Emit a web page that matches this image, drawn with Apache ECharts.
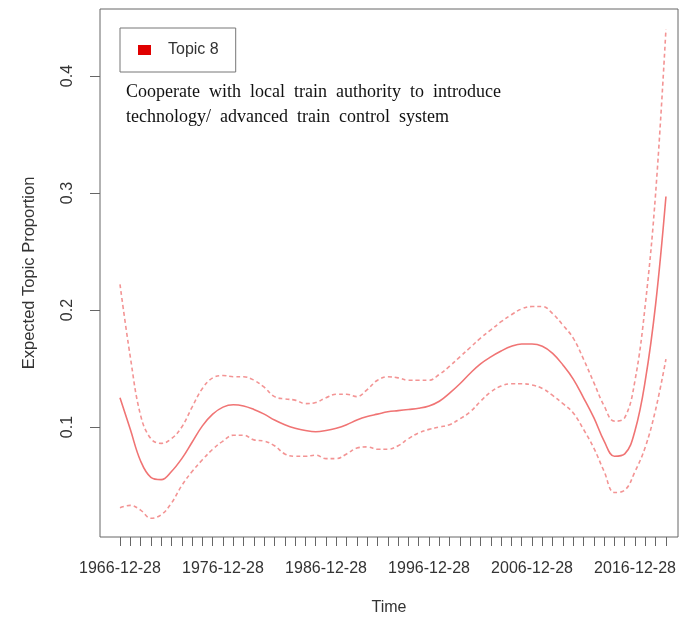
<!DOCTYPE html>
<html>
<head>
<meta charset="utf-8">
<script src="https://cdn.jsdelivr.net/npm/echarts@6/dist/echarts.min.js"></script>
<style>
  html, body { margin: 0; padding: 0; background: #fff; }
  #chart { width: 681px; height: 621px; }
</style>
</head>
<body>
<div id="chart"></div>
<script>
// years sampled along the time axis (each tick is YYYY-12-28)
const years = [1966, 1967, 1968, 1969, 1970, 1971, 1972, 1973, 1974, 1975,
  1976, 1977, 1978, 1979, 1980, 1981, 1982, 1983, 1984, 1985,
  1986, 1987, 1988, 1989, 1990, 1991, 1992, 1993, 1994, 1995,
  1996, 1997, 1998, 1999, 2000, 2001, 2002, 2003, 2004, 2005,
  2006, 2007, 2008, 2009, 2010, 2011, 2012, 2013, 2014, 2015,
  2016, 2017, 2018, 2019]
const labelYears = [1966, 1976, 1986, 1996, 2006, 2016]
const yTicks = [0.1, 0.2, 0.3, 0.4]

// expected topic proportion (mean) and 95% bounds
const meanVals = [0.125, 0.098, 0.071, 0.057, 0.055, 0.062, 0.073, 0.087, 0.101, 0.111,
  0.117, 0.119, 0.118, 0.115, 0.111, 0.106, 0.102, 0.099, 0.097, 0.096,
  0.097, 0.099, 0.102, 0.106, 0.109, 0.111, 0.113, 0.114, 0.115, 0.116,
  0.118, 0.122, 0.129, 0.137, 0.146, 0.154, 0.160, 0.165, 0.169, 0.171,
  0.171, 0.169, 0.163, 0.153, 0.141, 0.125, 0.108, 0.088, 0.075, 0.077,
  0.097, 0.140, 0.205, 0.297]
const upperVals = [0.222, 0.160, 0.110, 0.090, 0.086, 0.090, 0.100, 0.117, 0.133, 0.142,
  0.144, 0.143, 0.143, 0.140, 0.134, 0.126, 0.124, 0.123, 0.120, 0.121,
  0.125, 0.128, 0.128, 0.126, 0.132, 0.140, 0.143, 0.142, 0.140, 0.140,
  0.140, 0.145, 0.152, 0.160, 0.168, 0.176, 0.183, 0.190, 0.196, 0.201,
  0.203, 0.203, 0.197, 0.187, 0.176, 0.158, 0.138, 0.118, 0.105, 0.108,
  0.140, 0.205, 0.300, 0.440]
const lowerVals = [0.031, 0.033, 0.029, 0.022, 0.025, 0.035, 0.050, 0.062, 0.072, 0.081,
  0.088, 0.093, 0.093, 0.089, 0.088, 0.084, 0.077, 0.075, 0.075, 0.076,
  0.073, 0.073, 0.077, 0.082, 0.083, 0.081, 0.081, 0.084, 0.090, 0.095,
  0.098, 0.100, 0.102, 0.107, 0.113, 0.122, 0.130, 0.135, 0.137, 0.137,
  0.136, 0.133, 0.127, 0.120, 0.112, 0.098, 0.082, 0.062, 0.044, 0.046,
  0.062, 0.083, 0.115, 0.158]

const pairs = (vals) => years.map((y, i) => [y, vals[i]])

const chart = echarts.init(document.getElementById('chart'))

const axisText = {
  color: '#333',
  fontFamily: 'Liberation Sans, Arial, sans-serif',
  fontSize: 16
}

const option = {
  animation: false,
  backgroundColor: '#fff',
  title: {
    // wide word gaps as in the original annotation
    text: 'Cooperate  with  local  train  authority  to  introduce\ntechnology/  advanced  train  control  system',
    left: 126,
    top: 80,
    padding: 0,
    textStyle: {
      fontFamily: 'Liberation Serif, Times New Roman, serif',
      fontWeight: 'normal',
      fontSize: 18,
      lineHeight: 25,
      color: '#111'
    }
  },
  legend: {
    left: 120,
    top: 28,
    orient: 'vertical',
    padding: [14, 17, 14, 18],
    borderColor: '#777',
    borderWidth: 1,
    borderRadius: 0,
    itemWidth: 13,
    itemHeight: 10,
    data: [{name: 'Topic 8', icon: 'rect', itemStyle: {color: '#e00000'}}],
    textStyle: {
      color: '#333',
      fontFamily: 'Liberation Sans, Arial, sans-serif',
      fontSize: 16,
      padding: [0, 0, 0, 12]
    }
  },
  grid: {
    left: 100,
    top: 9,
    right: 3,
    bottom: 84,
    show: true,
    borderColor: '#666',
    borderWidth: 1
  },
  xAxis: {
    type: 'value',
    min: 1964.06,
    max: 2020.17,
    name: 'Time',
    nameLocation: 'middle',
    nameGap: 63,
    nameTextStyle: axisText,
    axisLine: {show: false},
    splitLine: {show: false},
    axisTick: {
      show: true,
      length: 9,
      customValues: years,
      lineStyle: {color: '#666'}
    },
    axisLabel: {
      ...axisText,
      margin: 24,
      customValues: labelYears,
      formatter: (v) => v + '-12-28'
    }
  },
  yAxis: {
    type: 'value',
    min: 0.006,
    max: 0.4573,
    name: 'Expected Topic Proportion',
    nameLocation: 'middle',
    nameGap: 62,
    nameTextStyle: {...axisText, fontSize: 16.5},
    axisLine: {show: false},
    splitLine: {show: false},
    axisTick: {
      show: true,
      length: 10,
      customValues: yTicks,
      lineStyle: {color: '#666'}
    },
    axisLabel: {
      ...axisText,
      rotate: 90,
      margin: 24,
      customValues: yTicks,
      formatter: (v) => v.toFixed(1)
    }
  },
  series: [
    {
      name: 'Topic 8',
      type: 'line',
      data: pairs(meanVals),
      smooth: 0.4,
      symbol: 'none',
      lineStyle: {color: '#f07474', width: 1.6}
    },
    {
      name: 'upper',
      type: 'line',
      data: pairs(upperVals),
      smooth: 0.4,
      symbol: 'none',
      lineStyle: {color: '#f39494', width: 1.6, type: [4, 3]}
    },
    {
      name: 'lower',
      type: 'line',
      data: pairs(lowerVals),
      smooth: 0.4,
      symbol: 'none',
      lineStyle: {color: '#f39494', width: 1.6, type: [4, 3]}
    }
  ]
}

chart.setOption(option)
</script>
</body>
</html>
